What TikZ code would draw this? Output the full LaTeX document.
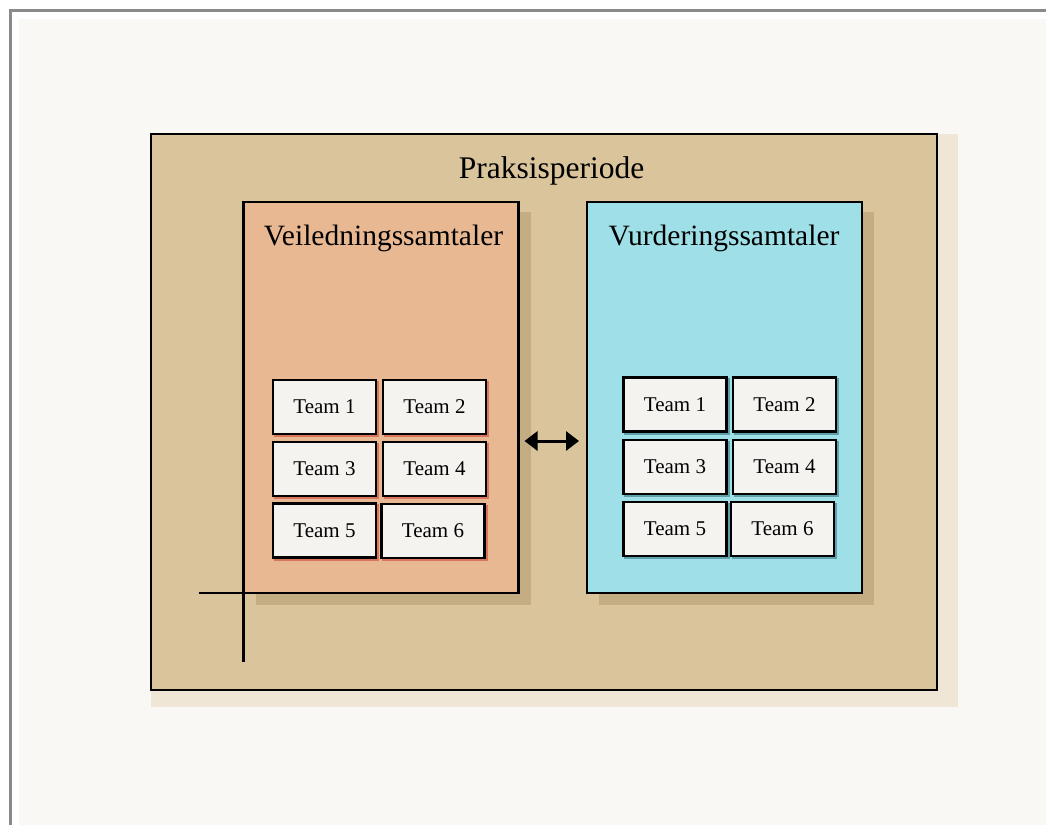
\documentclass[tikz,border=0pt]{standalone}
\usepackage{fontspec}
\setmainfont{Liberation Serif}
\usetikzlibrary{arrows.meta,calc}

\definecolor{paper}{HTML}{FAF8F4}
\definecolor{framegray}{HTML}{8A8A8A}
\definecolor{tan}{HTML}{D9C49B}
\definecolor{tanhalo}{HTML}{F0E6D6}
\definecolor{tanshadow}{HTML}{C5AD83}
\definecolor{peach}{HTML}{E8B893}
\definecolor{cyanbox}{HTML}{9FE0E8}
\definecolor{card}{HTML}{F4F3F0}
\definecolor{redshadow}{HTML}{D8755C}
\definecolor{blueshadow}{HTML}{5E9FAA}

\tikzset{
  period/.style={draw=black, line width=2.4pt, fill=tan, minimum width=786pt, minimum height=556pt, inner sep=0pt},
  phase/.style={draw=black, line width=2.4pt, minimum width=275pt, minimum height=391pt, inner sep=0pt, outer sep=0pt},
  heading/.style={anchor=base, font=\fontsize{29.5}{34}\selectfont, inner sep=0pt},
  team/.style={draw=black, line width=2.2pt, fill=card, minimum width=103pt, minimum height=54pt,
    inner sep=0pt, font=\fontsize{21}{25}\selectfont},
  redteam/.style={team, preaction={draw=redshadow, line width=2.2pt, transform canvas={shift={(2pt,-2pt)}}}},
  blueteam/.style={team, preaction={draw=blueshadow, line width=2.2pt, transform canvas={shift={(2pt,-2pt)}}}},
  link/.style={line width=3pt, {Triangle[length=13pt,width=19pt]}-{Triangle[length=13pt,width=19pt]}},
  guide/.style={line width=2.4pt, black},
}

\begin{document}
\begin{tikzpicture}[x=1pt, y=-1pt]
  % page and paper
  \useasboundingbox (0,0) rectangle (1046,825);
  \fill[white] (0,0) rectangle (1046,825);
  \draw[framegray, line width=3pt] (10,825) -- (10,10) -- (1046,10);
  \fill[paper] (19,19) rectangle (1046,825);

  % soft halo behind the period box
  \fill[tanhalo] (151,134) rectangle (958,707);

  % practice period
  \node[period] (period) at (544,412) {};
  \node[heading, font=\fontsize{31.5}{36}\selectfont] (ptitle) at (551.5,178) {Praksisperiode};

  % shadows of the two phase boxes
  \fill[tanshadow] (256,212) rectangle (531,605);
  \fill[tanshadow] (599,212) rectangle (874,605);

  % the two phases
  \node[phase, fill=peach] (veil) at (381,397.5) {};
  \node[phase, fill=cyanbox] (vurd) at (724.5,397.5) {};
  \node[heading] (vtitle) at (383.5,245) {Veiledningssamtaler};
  \node[heading] (wtitle) at (724,245) {Vurderingssamtaler};

  % teams in the supervision phase
  \node[redteam] (l1) at (324.5,407) {Team 1};
  \node[redteam] (l2) at (434.5,407) {Team 2};
  \node[redteam] (l3) at (324.5,469) {Team 3};
  \node[redteam] (l4) at (434.5,469) {Team 4};
  \node[redteam] (l5) at (324.5,530.5) {Team 5};
  \node[redteam] (l6) at (433,531) {Team 6};

  % teams in the assessment phase
  \node[blueteam] (r1) at (675,404.5) {Team 1};
  \node[blueteam] (r2) at (784.5,404.5) {Team 2};
  \node[blueteam] (r3) at (675,467) {Team 3};
  \node[blueteam] (r4) at (784.5,467) {Team 4};
  \node[blueteam] (r5) at (675,529) {Team 5};
  \node[blueteam] (r6) at (782.5,529) {Team 6};

  % link between the phases
  \draw[link] ($(veil.east)+(6,43.5)$) -- ($(vurd.west)+(-8,43.5)$);

  % crossing guide lines at the lower left corner
  \coordinate (gh) at ($(veil.south west)+(-45,0)$);
  \coordinate (gv) at ($(veil.south west)+(0,69)$);
  \draw[guide] (gh) -- (veil.south west);
  \draw[guide] (veil.south west) -- (gv);
\end{tikzpicture}
\end{document}
